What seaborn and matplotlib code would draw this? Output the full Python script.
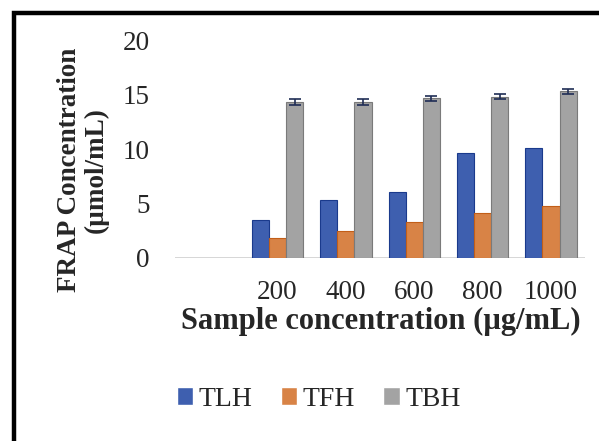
# %%
import pandas as pd
import seaborn as sns
import matplotlib.pyplot as plt

# %% Dados (FRAP, umol/mL)
concentracoes = ['200', '400', '600', '800', '1000']
series = ['TLH', 'TFH', 'TBH']
tlh = [3.5, 5.3, 6.1, 9.65, 10.1]
tfh = [1.85, 2.45, 3.3, 4.1, 4.75]
tbh = [14.3, 14.3, 14.65, 14.8, 15.3]
erro_tbh = [0.25, 0.25, 0.25, 0.25, 0.25]
cores = ['#2B57C2', '#F07F2E', '#A3A3A3']
bordas = ['#1A3A8C', '#C25E18', '#7A7A7A']

# %% Tabela longa para o seaborn
df = pd.DataFrame({
    'Concentracao': concentracoes * 3,
    'Serie': [s for s in series for _ in concentracoes],
    'FRAP': tlh + tfh + tbh,
})

# %%
sns.set_style('white')
plt.rcParams['font.family'] = ['Liberation Serif', 'DejaVu Serif']

fig = plt.figure(figsize=(5.99, 4.41), dpi=100)
ax = fig.add_axes([0.292, 0.415, 0.685, 0.494])

sns.barplot(data=df, x='Concentracao', y='FRAP', hue='Serie', order=concentracoes,
            hue_order=series, palette=cores, width=0.75, ax=ax, legend=True)

# bordas mais escuras nas barras
for cont, borda in zip(ax.containers, bordas):
    for p in cont:
        p.set_edgecolor(borda)
        p.set_linewidth(0.8)

# barras de erro so no TBH
barras_tbh = ax.containers[2]
xs = [p.get_x() + p.get_width() / 2 for p in barras_tbh]
ys = [p.get_height() for p in barras_tbh]
ax.errorbar(xs, ys, yerr=erro_tbh, fmt='none', ecolor='#1F2D55', elinewidth=1.2,
            capsize=4, capthick=1.2, zorder=5)

# %% Eixos
ax.set_xlim(-1.5, 4.5)
ax.set_ylim(0, 20)
ax.set_yticks([0, 5, 10, 15, 20])
ax.axhline(0, color='#D0D0D0', lw=1.2, zorder=0)
for s in ax.spines.values():
    s.set_visible(False)
ax.tick_params(axis='both', length=0, labelsize=19.5)
ax.tick_params(axis='y', pad=18)
ax.tick_params(axis='x', pad=16)
ax.set_xlabel('')
ax.set_ylabel('')

fig.text(0.635, 0.27, 'Sample concentration (µg/mL)', ha='center', va='center',
         fontsize=22, fontweight='bold')
fig.text(0.138, 0.615, 'FRAP Concentration\n(µmol/mL)', ha='center', va='center',
         rotation=90, fontsize=19.5, fontweight='bold', linespacing=1.1)

# %% Legenda embaixo
handles, labels = ax.get_legend_handles_labels()
ax.legend(handles, labels, loc='center', bbox_to_anchor=(0.532, 0.095),
          bbox_transform=fig.transFigure, ncol=3, frameon=False, fontsize=20,
          handlelength=0.6, handleheight=0.6, handletextpad=0.2, columnspacing=1.0)

# %% Moldura preta (esquerda e topo)
moldura = plt.Rectangle((0.0235, -0.2), 1.5, 1.2 - 12.5 / 441, transform=fig.transFigure,
                        fill=False, edgecolor='black', linewidth=3.2)
fig.add_artist(moldura)

fig.savefig('out.png', dpi=100)
